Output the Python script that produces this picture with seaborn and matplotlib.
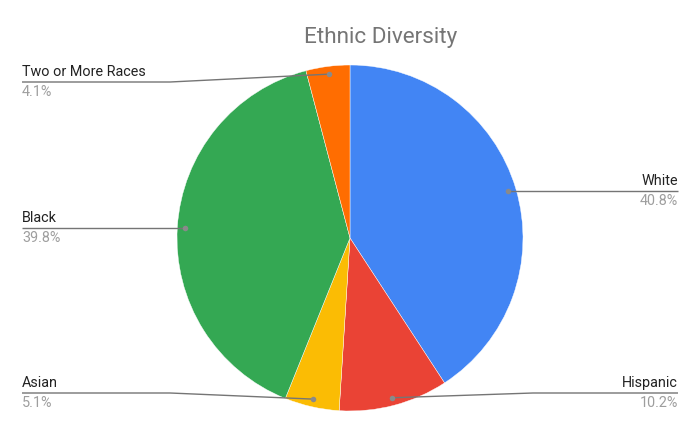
import numpy as np
import matplotlib
matplotlib.use("Agg")
import matplotlib.pyplot as plt
import seaborn as sns

# data
categories = ["White", "Hispanic", "Asian", "Black", "Two or More Races"]
shares = [40.8, 10.2, 5.1, 39.8, 4.1]
pct_labels = ["40.8%", "10.2%", "5.1%", "39.8%", "4.1%"]
colors = ["#4285F4", "#EA4335", "#FBBC04", "#34A853", "#FF6D01"]

# label layout (image pixel coords): side, line y, elbow x
label_side = ["right", "right", "left", "left", "left"]
label_line_y = [None, 393, 393, None, 82]
label_elbow_x = [None, 533, 170, None, 170]

sns.set_theme(style="white")
plt.rcParams["font.family"] = ["Roboto", "DejaVu Sans"]

W, H = 700, 433
fig = plt.figure(figsize=(7, 4.33), dpi=100)
ax = fig.add_axes([0, 0, 1, 1])

cx, cy, R = 350, H - 238, 173
wedges, _ = ax.pie(
    shares,
    colors=sns.color_palette(colors),
    startangle=90,
    counterclock=False,
    center=(cx, cy),
    radius=R,
    wedgeprops=dict(edgecolor="white", linewidth=0.3),
)
ax.set_xlim(0, W)
ax.set_ylim(0, H)
ax.axis("off")

line_col = "#757575"
for i, w in enumerate(wedges):
    mid = np.deg2rad((w.theta1 + w.theta2) / 2)
    dx = cx + 0.955 * R * np.cos(mid)
    dy = cy + 0.955 * R * np.sin(mid)
    ly = dy if label_line_y[i] is None else H - label_line_y[i]
    end_x = 678 if label_side[i] == "right" else 22
    if label_elbow_x[i] is None:
        xs, ys = [dx, end_x], [dy, ly]
    else:
        xs, ys = [dx, label_elbow_x[i], end_x], [dy, ly, ly]
    ax.plot(xs, ys, color=line_col, lw=1, solid_capstyle="butt")
    ax.plot([dx], [dy], "o", ms=4, color="#8a8a8a", mec="none")
    ha = "right" if label_side[i] == "right" else "left"
    ax.text(end_x, ly + 3, categories[i], ha=ha, va="bottom",
            fontsize=10.4, color="#222222")
    ax.text(end_x, ly - 3, pct_labels[i], ha=ha, va="top",
            fontsize=10.4, color="#9E9E9E")

ax.text(381, H - 37, "Ethnic Diversity", ha="center", va="center",
        fontsize=16.2, color="#757575")

fig.savefig("out.png", dpi=100)
